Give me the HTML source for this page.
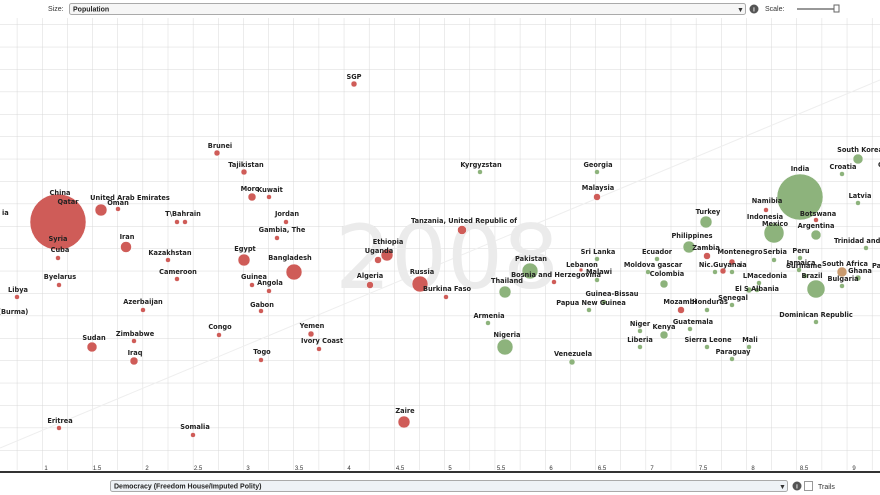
<!DOCTYPE html>
<html><head><meta charset="utf-8"><style>
body{margin:0;background:#fff;width:880px;height:495px;overflow:hidden;font-family:"Liberation Sans",sans-serif}
svg{position:absolute;left:0;top:0}
.l{font-size:6.6px;font-weight:bold;fill:#222;text-anchor:middle;font-family:"DejaVu Sans","Liberation Sans",sans-serif}
.r{fill:#cf5c58}.g{fill:#8db37c}
.t{font-size:6px;fill:#333;text-anchor:middle}
</style></head><body>
<svg width="880" height="495" viewBox="0 0 880 495">
<defs>
<pattern id="gp" width="25.15" height="22.4" patternUnits="userSpaceOnUse" patternTransform="translate(42,2)">
<path d="M0 0V22.4M0 0H25.15" stroke="#d8d8d8" stroke-width="1" fill="none"/>
</pattern>
</defs>
<rect x="0" y="18" width="880" height="452" fill="url(#gp)"/>
<line x1="0" y1="448" x2="880" y2="80" stroke="#eeeeee" stroke-width="1"/>
<text x="447" y="288" font-size="88" fill="#ebebeb" text-anchor="middle" font-family="DejaVu Sans,sans-serif" font-weight="normal">2008</text>
<line x1="0" y1="472" x2="880" y2="472" stroke="#333" stroke-width="2"/>
<g class="t">
<text x="46" y="470">1</text><text x="97" y="470">1.5</text><text x="147" y="470">2</text><text x="198" y="470">2.5</text><text x="248" y="470">3</text><text x="299" y="470">3.5</text><text x="349" y="470">4</text><text x="400" y="470">4.5</text><text x="450" y="470">5</text><text x="501" y="470">5.5</text><text x="551" y="470">6</text><text x="602" y="470">6.5</text><text x="652" y="470">7</text><text x="703" y="470">7.5</text><text x="753" y="470">8</text><text x="804" y="470">8.5</text><text x="854" y="470">9</text>
</g>
<!-- top controls -->
<text x="48" y="11" font-size="7" fill="#333">Size:</text>
<rect x="69.5" y="3.5" width="676" height="11" rx="2" fill="#f6f6f6" stroke="#aaa"/>
<text x="73" y="11.5" font-size="7" font-weight="bold" fill="#222">Population</text>
<text x="737" y="12" font-size="7" fill="#333">▼</text>
<circle cx="754" cy="9" r="4.5" fill="#555"/><text x="754" y="11.5" font-size="6" fill="#fff" text-anchor="middle" font-weight="bold">i</text>
<text x="765" y="11" font-size="7" fill="#333">Scale:</text>
<line x1="797" y1="9" x2="836" y2="9" stroke="#777" stroke-width="1.5"/>
<rect x="834" y="5" width="5" height="7" fill="#fff" stroke="#666"/>
<!-- bottom controls -->
<rect x="110.5" y="480.5" width="677" height="11" rx="2" fill="#eef2f6" stroke="#aaa"/>
<text x="114" y="488.5" font-size="7" font-weight="bold" fill="#222">Democracy (Freedom House/Imputed Polity)</text>
<text x="779" y="489" font-size="7" fill="#333">▼</text>
<circle cx="797" cy="486" r="4.5" fill="#555"/><text x="797" y="488.5" font-size="6" fill="#fff" text-anchor="middle" font-weight="bold">i</text>
<rect x="804.5" y="481.5" width="8" height="9" fill="#fff" stroke="#999"/>
<text x="818" y="489" font-size="7" fill="#333">Trails</text>

<!-- red bubbles -->
<g class="r" stroke="#fff" stroke-width="0.5">
<circle cx="58" cy="222" r="28"/>
<circle cx="354" cy="84" r="3"/><circle cx="217" cy="153" r="3"/><circle cx="244" cy="172" r="3"/>
<circle cx="252" cy="197" r="4"/><circle cx="269" cy="197" r="2.5"/>
<circle cx="101" cy="210" r="6"/><circle cx="118" cy="209" r="2.5"/>
<circle cx="177" cy="222" r="2.5"/><circle cx="185" cy="222" r="2.5"/>
<circle cx="286" cy="222" r="2.5"/><circle cx="277" cy="238" r="2.5"/>
<circle cx="126" cy="247" r="5.5"/><circle cx="58" cy="258" r="2.5"/>
<circle cx="168" cy="260" r="2.5"/><circle cx="244" cy="260" r="6"/>
<circle cx="294" cy="272" r="8"/><circle cx="177" cy="279" r="2.5"/>
<circle cx="252" cy="285" r="2.5"/><circle cx="269" cy="291" r="2.5"/>
<circle cx="59" cy="285" r="2.5"/><circle cx="17" cy="297" r="2.5"/>
<circle cx="143" cy="310" r="2.5"/><circle cx="261" cy="311" r="2.5"/>
<circle cx="219" cy="335" r="2.5"/><circle cx="92" cy="347" r="5"/>
<circle cx="134" cy="341" r="2.5"/><circle cx="134" cy="361" r="4"/>
<circle cx="261" cy="360" r="2.5"/><circle cx="311" cy="334" r="3"/>
<circle cx="319" cy="349" r="2.5"/><circle cx="59" cy="428" r="2.5"/>
<circle cx="193" cy="435" r="2.5"/><circle cx="404" cy="422" r="6"/>
<circle cx="387" cy="255" r="6"/><circle cx="378" cy="260" r="3.5"/>
<circle cx="370" cy="285" r="3.5"/><circle cx="420" cy="284" r="8"/>
<circle cx="446" cy="297" r="2.5"/><circle cx="462" cy="230" r="4.5"/>
<circle cx="597" cy="197" r="3.5"/><circle cx="581" cy="270" r="2"/>
<circle cx="554" cy="282" r="2.5"/><circle cx="766" cy="210" r="2.5"/>
<circle cx="707" cy="256" r="3.5"/><circle cx="732" cy="262" r="3"/>
<circle cx="723" cy="271" r="3"/><circle cx="681" cy="310" r="3.5"/>
<circle cx="816" cy="220" r="2.5"/>
</g>
<!-- green bubbles -->
<g class="g" stroke="#fff" stroke-width="0.5">
<circle cx="800" cy="197" r="23"/><circle cx="774" cy="233" r="10"/>
<circle cx="480" cy="172" r="2.5"/><circle cx="597" cy="172" r="2.5"/>
<circle cx="597" cy="259" r="2.5"/><circle cx="530" cy="271" r="8"/>
<circle cx="597" cy="280" r="2.5"/><circle cx="505" cy="292" r="6"/>
<circle cx="604" cy="302" r="2.5"/><circle cx="589" cy="310" r="2.5"/>
<circle cx="488" cy="323" r="2.5"/><circle cx="505" cy="347" r="8"/>
<circle cx="572" cy="362" r="3"/><circle cx="858" cy="159" r="5"/>
<circle cx="842" cy="174" r="2.5"/><circle cx="858" cy="203" r="2.5"/>
<circle cx="706" cy="222" r="6"/><circle cx="816" cy="235" r="5"/>
<circle cx="866" cy="248" r="2.5"/><circle cx="689" cy="247" r="6"/>
<circle cx="657" cy="259" r="2.5"/><circle cx="774" cy="260" r="2.5"/>
<circle cx="800" cy="258" r="2.5"/><circle cx="648" cy="272" r="2.5"/>
<circle cx="664" cy="284" r="4"/><circle cx="715" cy="272" r="2.5"/>
<circle cx="732" cy="272" r="2.5"/><circle cx="759" cy="283" r="2.5"/>
<circle cx="799" cy="270" r="2.5"/><circle cx="805" cy="276" r="2.5"/>
<circle cx="842" cy="272" r="5" style="fill:#c99a6e"/><circle cx="858" cy="278" r="3"/>
<circle cx="816" cy="289" r="9"/><circle cx="842" cy="286" r="2.5"/>
<circle cx="749" cy="290" r="3"/><circle cx="757" cy="290" r="2.5"/>
<circle cx="732" cy="305" r="2.5"/><circle cx="707" cy="310" r="2.5"/>
<circle cx="816" cy="322" r="2.5"/><circle cx="640" cy="331" r="2.5"/>
<circle cx="664" cy="335" r="4"/><circle cx="690" cy="329" r="2.5"/>
<circle cx="640" cy="347" r="2.5"/><circle cx="707" cy="347" r="2.5"/>
<circle cx="749" cy="347" r="2.5"/><circle cx="732" cy="359" r="2.5"/>
</g>
<!-- labels -->
<g class="l">
<text x="354" y="79">SGP</text><text x="220" y="148">Brunei</text><text x="246" y="167">Tajikistan</text>
<text x="250" y="191">Moro</text><text x="270" y="192">Kuwait</text>
<text x="60" y="195">China</text><text x="68" y="204">Qatar</text><text x="58" y="241">Syria</text>
<text x="2" y="215" style="text-anchor:start">ia</text>
<text x="130" y="200">United Arab Emirates</text><text x="118" y="205">Oman</text>
<text x="183" y="216">T\Bahrain</text><text x="287" y="216">Jordan</text><text x="282" y="232">Gambia, The</text>
<text x="127" y="239">Iran</text><text x="60" y="252">Cuba</text><text x="170" y="255">Kazakhstan</text>
<text x="245" y="251">Egypt</text><text x="290" y="260">Bangladesh</text><text x="178" y="274">Cameroon</text>
<text x="254" y="279">Guinea</text><text x="270" y="285">Angola</text><text x="60" y="279">Byelarus</text>
<text x="18" y="292">Libya</text><text x="-2" y="314" style="text-anchor:start">(Burma)</text>
<text x="143" y="304">Azerbaijan</text><text x="262" y="307">Gabon</text><text x="220" y="329">Congo</text>
<text x="94" y="340">Sudan</text><text x="135" y="336">Zimbabwe</text><text x="135" y="355">Iraq</text>
<text x="262" y="354">Togo</text><text x="312" y="328">Yemen</text><text x="322" y="343">Ivory Coast</text>
<text x="60" y="423">Eritrea</text><text x="195" y="429">Somalia</text><text x="405" y="413">Zaire</text>
<text x="388" y="244">Ethiopia</text><text x="379" y="253">Uganda</text><text x="370" y="278">Algeria</text>
<text x="422" y="274">Russia</text><text x="447" y="291">Burkina Faso</text>
<text x="464" y="223">Tanzania, United Republic of</text>
<text x="598" y="190">Malaysia</text><text x="582" y="267">Lebanon</text><text x="556" y="277">Bosnia and Herzegovina</text>
<text x="767" y="203">Namibia</text><text x="706" y="250">Zambia</text><text x="740" y="254">Montenegro</text>
<text x="720" y="267">Nic.Guyana</text><text x="740" y="267" style="text-anchor:start">ia</text>
<text x="680" y="304">Mozambi</text><text x="818" y="216">Botswana</text>
<text x="481" y="167">Kyrgyzstan</text><text x="598" y="167">Georgia</text><text x="598" y="254">Sri Lanka</text>
<text x="531" y="261">Pakistan</text><text x="599" y="274">Malawi</text><text x="507" y="283">Thailand</text>
<text x="612" y="296">Guinea-Bissau</text><text x="591" y="305">Papua New Guinea</text>
<text x="489" y="318">Armenia</text><text x="507" y="337">Nigeria</text><text x="573" y="356">Venezuela</text>
<text x="860" y="152">South Korea</text><text x="843" y="169">Croatia</text><text x="878" y="167" style="text-anchor:start">C</text>
<text x="800" y="171">India</text><text x="860" y="198">Latvia</text><text x="708" y="214">Turkey</text>
<text x="765" y="219">Indonesia</text><text x="775" y="226">Mexico</text><text x="816" y="228">Argentina</text>
<text x="834" y="243" style="text-anchor:start">Trinidad and T</text><text x="692" y="238">Philippines</text>
<text x="657" y="254">Ecuador</text><text x="775" y="254">Serbia</text><text x="801" y="253">Peru</text>
<text x="653" y="267">Moldova gascar</text><text x="667" y="276">Colombia</text>
<text x="765" y="278">LMacedonia</text><text x="801" y="265">Jamaica</text><text x="804" y="268">Suriname</text>
<text x="845" y="266">South Africa</text><text x="860" y="273">Ghana</text><text x="872" y="268" style="text-anchor:start">Pa</text>
<text x="812" y="278">Brazil</text><text x="843" y="281">Bulgaria</text><text x="757" y="291">El S Albania</text>
<text x="733" y="300">Senegal</text><text x="710" y="304">Honduras</text><text x="816" y="317">Dominican Republic</text>
<text x="640" y="326">Niger</text><text x="664" y="329">Kenya</text><text x="693" y="324">Guatemala</text>
<text x="640" y="342">Liberia</text><text x="708" y="342">Sierra Leone</text><text x="750" y="342">Mali</text>
<text x="733" y="354">Paraguay</text>
</g>
</svg>
</body></html>
